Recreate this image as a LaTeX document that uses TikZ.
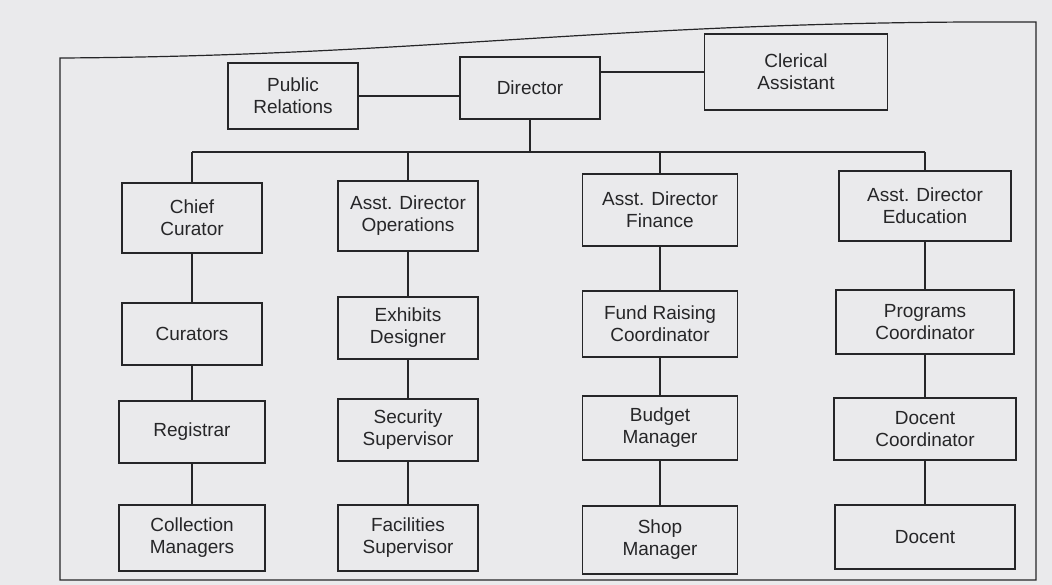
\documentclass[tikz,border=0pt]{standalone}
\usepackage{fontspec}
\setmainfont{Liberation Sans}
\definecolor{paper}{RGB}{234,234,236}
\definecolor{ink}{RGB}{38,38,40}
\usetikzlibrary{positioning}
\tikzset{
  box/.style={draw=ink, line width=1.6pt, fill=paper, align=center,
    inner sep=0pt, font=\fontsize{19}{22}\selectfont, text=ink},
  link/.style={draw=ink, line width=1.4pt}
}

\begin{document}
\begin{tikzpicture}[x=1pt, y=-1pt]
  \useasboundingbox [fill=paper] (0,0) rectangle (1052,585);
  % page frame (top edge bent with the page)
  \draw [ink, line width=1.2pt] (60,580) -- (60,58)
    .. controls (430,56) and (620,20) .. (1036,22) -- (1036,580) -- cycle;

  % top row
  \node [box, minimum width=130, minimum height=66] (pr)  at (293,96) {Public\\Relations};
  \node [box, minimum width=140, minimum height=62] (dir) at (530,88) {Director};
  \node [box, minimum width=183, minimum height=76] (cla) at (796,72) {Clerical\\Assistant};
  \draw [link] (pr.east) -- (pr.east -| dir.west);
  \draw [link] (cla.west -| dir.east) -- (cla.west);

  % the four branches
  \coordinate (col1) at (192,0);
  \coordinate (col2) at (408,0);
  \coordinate (col3) at (660,0);
  \coordinate (col4) at (925,0);

  \node [box, minimum width=140, minimum height=70] (cur1) at (col1 |- 0,218) {Chief\\Curator};
  \node [box, minimum width=140, minimum height=70] (ops1) at (col2 |- 0,216) {Asst. Director\\Operations};
  \node [box, minimum width=155, minimum height=72] (fin1) at (col3 |- 0,210) {Asst. Director\\Finance};
  \node [box, minimum width=172, minimum height=70] (edu1) at (col4 |- 0,206) {Asst. Director\\Education};

  \node [box, minimum width=140, minimum height=62] (cur2) at (col1 |- 0,334) {Curators};
  \node [box, minimum width=140, minimum height=62] (ops2) at (col2 |- 0,328) {Exhibits\\Designer};
  \node [box, minimum width=155, minimum height=66] (fin2) at (col3 |- 0,324) {Fund Raising\\Coordinator};
  \node [box, minimum width=178, minimum height=64] (edu2) at (col4 |- 0,322) {Programs\\Coordinator};

  \node [box, minimum width=146, minimum height=62] (cur3) at (col1 |- 0,432) {Registrar};
  \node [box, minimum width=140, minimum height=62] (ops3) at (col2 |- 0,430) {Security\\Supervisor};
  \node [box, minimum width=155, minimum height=64] (fin3) at (col3 |- 0,428) {Budget\\Manager};
  \node [box, minimum width=182, minimum height=62] (edu3) at (col4 |- 0,429) {Docent\\Coordinator};

  \node [box, minimum width=146, minimum height=66] (cur4) at (col1 |- 0,538) {Collection\\Managers};
  \node [box, minimum width=140, minimum height=66] (ops4) at (col2 |- 0,538) {Facilities\\Supervisor};
  \node [box, minimum width=155, minimum height=68] (fin4) at (col3 |- 0,540) {Shop\\Manager};
  \node [box, minimum width=180, minimum height=64] (edu4) at (col4 |- 0,537) {Docent};

  % reporting lines
  \coordinate (bus) at (dir.south |- 0,152);
  \draw [link] (dir.south) -- (bus);
  \draw [link] (cur1.north |- bus) -- (edu1.north |- bus);
  \foreach \n in {cur,ops,fin,edu} {
    \draw [link] (\n1.north |- bus) -- (\n1.north);
    \draw [link] (\n1) -- (\n2);
    \draw [link] (\n2) -- (\n3);
    \draw [link] (\n3) -- (\n4);
  }

\end{tikzpicture}
\end{document}
